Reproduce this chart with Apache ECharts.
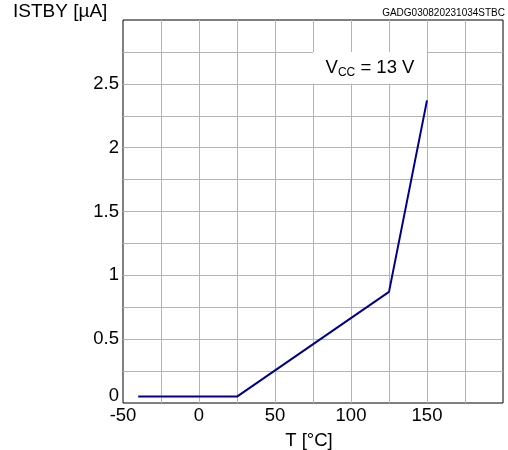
<!DOCTYPE html>
<html><head><meta charset="utf-8">
<script src="https://cdn.jsdelivr.net/npm/echarts@6/dist/echarts.min.js"></script>
<style>html,body{margin:0;padding:0;background:#fff}#c{width:508px;height:450px}</style>
</head><body><div id="c"></div>
<script>
var temps = [-40, 25, 125, 150];
var istby = [0.05, 0.05, 0.87, 2.37];
var xTickLabels = [-50, 0, 50, 100, 150];
var yTickLabels = [0, 0.5, 1, 1.5, 2, 2.5];
var noteBox = [[75, 2.5], [150, 2.75]];

var FONT = 'Liberation Sans, Arial, sans-serif';
var FS = 18.5;
var chart = echarts.init(document.getElementById('c'));
chart.setOption({
  animation: false,
  backgroundColor: '#fff',
  grid: {left: 123, right: 5, top: 20, bottom: 47, show: true, borderColor: '#000', borderWidth: 1, backgroundColor: 'transparent', containLabel: false, outerBoundsMode: 'none'},
  title: [
    {text: 'ISTBY [µA]', left: 13, top: 2, padding: 0, textStyle: {fontFamily: FONT, fontSize: 19, fontWeight: 'normal', color: '#000'}},
    {text: 'GADG030820231034STBC', right: 3, top: 8, padding: 0, textStyle: {fontFamily: FONT, fontSize: 10, fontWeight: 'normal', color: '#000'}}
  ],
  xAxis: {
    type: 'value', min: -50, max: 200, interval: 25,
    name: 'T [°C]', nameLocation: 'middle', nameGap: 28,
    nameTextStyle: {fontFamily: FONT, fontSize: FS, color: '#000', padding: [0, 8, 0, 0]},
    axisLine: {show: false}, axisTick: {show: false},
    axisLabel: {fontFamily: FONT, fontSize: FS, color: '#000', margin: 3,
      formatter: function (v) { return xTickLabels.indexOf(v) >= 0 ? String(v) : ''; }},
    splitLine: {show: true, showMinLine: false, showMaxLine: false, lineStyle: {color: '#b4b4b4', width: 1}}
  },
  yAxis: {
    type: 'value', min: 0, max: 3, interval: 0.25,
    axisLine: {show: false}, axisTick: {show: false},
    axisLabel: {fontFamily: FONT, fontSize: FS, color: '#000', margin: 4,
      formatter: function (v) {
        if (v === 0) return '{z|0}';
        return yTickLabels.indexOf(v) >= 0 ? String(v) : '';
      },
      rich: {z: {fontFamily: FONT, fontSize: FS, color: '#000', padding: [0, 0, 14, 0]}}},
    splitLine: {show: true, showMinLine: false, showMaxLine: false, lineStyle: {color: '#b4b4b4', width: 1}}
  },
  series: [{
    type: 'line', data: temps.map(function (t, i) { return [t, istby[i]]; }),
    symbol: 'none', lineStyle: {color: '#000090', width: 2},
    markArea: {
      silent: true,
      itemStyle: {color: '#fff', borderWidth: 0},
      label: {show: true, position: 'inside', fontFamily: FONT, color: '#000',
        formatter: '{v|V}{s|CC}{v| = 13 V}',
        rich: {v: {fontFamily: FONT, fontSize: FS, color: '#000'}, s: {fontFamily: FONT, fontSize: 12, color: '#000', padding: [9, 0, 0, 0]}}},
      data: [[{coord: noteBox[0]}, {coord: noteBox[1]}]]
    }
  }]
});
</script></body></html>
